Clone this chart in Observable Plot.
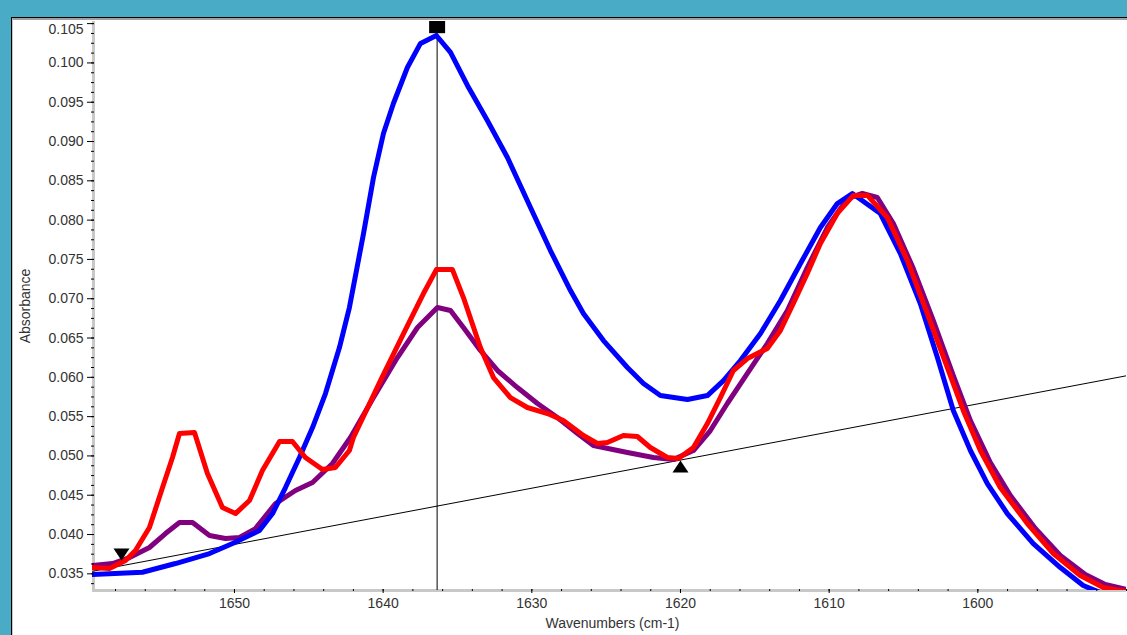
<!DOCTYPE html>
<html>
<head>
<meta charset="utf-8">
<script src="https://cdn.jsdelivr.net/npm/d3@7"></script>
<script src="https://cdn.jsdelivr.net/npm/@observablehq/plot@0.6"></script>
<style>
  html, body { margin: 0; padding: 0; width: 1127px; height: 635px; overflow: hidden; background: #4aabc6; }
  #panel { position: absolute; left: 11px; top: 17px; width: 1116px; height: 618px; background: #fff;
           border-top: 1px solid #000; border-left: 1px solid #000; box-sizing: border-box; }
  #panel .inner { position: absolute; left: 0; top: 0; right: 0; bottom: 0; border-top: 2px solid #a0a0a0; border-left: 1px solid #c8c8c8; }
  #chart { position: absolute; left: 0; top: 0; }
</style>
</head>
<body>
<div id="panel"><div class="inner"></div></div>
<div id="chart"></div>
<script>
// ---- data ----
const blueWn = [1659.55,1656.19,1653.97,1651.68,1650.13,1648.32,1647.44,1646.57,1645.63,1644.75,1643.88,1642.94,1642.27,1641.32,1640.65,1639.98,1639.31,1638.37,1637.49,1636.42,1635.47,1634.33,1632.99,1631.64,1630.09,1628.75,1627.40,1626.53,1625.18,1623.57,1622.49,1621.35,1619.53,1618.19,1617.11,1615.97,1614.62,1613.28,1611.93,1610.59,1609.45,1608.44,1606.56,1605.21,1603.87,1602.72,1601.65,1600.50,1599.36,1598.02,1596.27,1594.45,1592.91,1591.76,1590.0];
const blueAbs = [0.03491,0.03520,0.03631,0.03758,0.03886,0.04051,0.04267,0.04598,0.04980,0.05361,0.05794,0.06379,0.06888,0.07830,0.08542,0.09102,0.09484,0.09942,0.10248,0.10349,0.10133,0.09713,0.09268,0.08797,0.08161,0.07613,0.07104,0.06812,0.06468,0.06125,0.05921,0.05768,0.05718,0.05768,0.05959,0.06214,0.06557,0.06977,0.07448,0.07906,0.08212,0.08339,0.08084,0.07575,0.06939,0.06252,0.05578,0.05069,0.04649,0.04267,0.03885,0.03580,0.03351,0.03262,0.03240];

const redWn = [1659.55,1658.41,1657.33,1656.66,1655.72,1654.84,1654.17,1653.70,1652.69,1651.82,1650.81,1649.93,1648.99,1648.12,1646.97,1646.10,1645.23,1644.08,1643.21,1642.27,1642.00,1640.18,1638.63,1637.29,1636.42,1635.34,1634.60,1633.46,1632.58,1631.44,1630.30,1628.95,1627.88,1626.53,1625.59,1624.92,1623.84,1622.90,1622.03,1620.88,1620.14,1619.13,1618.19,1617.32,1616.44,1615.50,1614.16,1613.28,1612.41,1611.47,1610.59,1609.45,1608.37,1607.43,1606.09,1604.74,1603.40,1602.05,1600.98,1599.83,1598.49,1596.67,1594.92,1593.11,1591.56,1590.0];
const redAbs = [0.03580,0.03567,0.03669,0.03796,0.04089,0.04598,0.04980,0.05285,0.05298,0.04776,0.04344,0.04267,0.04433,0.04814,0.05183,0.05183,0.04980,0.04827,0.04853,0.05069,0.05234,0.05959,0.06557,0.07066,0.07371,0.07371,0.07015,0.06379,0.05997,0.05743,0.05616,0.05539,0.05450,0.05260,0.05158,0.05171,0.05260,0.05247,0.05107,0.04980,0.04967,0.05107,0.05412,0.05743,0.06087,0.06239,0.06367,0.06596,0.06939,0.07321,0.07703,0.08085,0.08314,0.08314,0.08034,0.07486,0.06812,0.06125,0.05578,0.05069,0.04598,0.04140,0.03758,0.03478,0.03326,0.03275];

const purpleWn = [1659.55,1658.20,1657.06,1655.72,1654.64,1653.70,1652.82,1651.68,1650.61,1649.66,1648.59,1647.24,1645.90,1644.75,1643.41,1642.20,1640.65,1639.04,1637.69,1636.35,1635.47,1634.60,1633.46,1632.31,1630.97,1629.62,1628.28,1626.93,1625.86,1623.57,1621.82,1620.48,1619.13,1617.99,1616.85,1615.50,1614.16,1612.81,1611.47,1610.12,1608.77,1607.77,1606.76,1605.68,1604.34,1603.00,1601.65,1600.50,1599.16,1597.81,1596.13,1594.45,1592.77,1591.43,1590.0];
const purpleAbs = [0.03606,0.03631,0.03707,0.03835,0.04013,0.04153,0.04153,0.03987,0.03949,0.03962,0.04076,0.04394,0.04560,0.04662,0.04904,0.05234,0.05743,0.06252,0.06634,0.06888,0.06850,0.06634,0.06342,0.06087,0.05870,0.05667,0.05489,0.05285,0.05132,0.05043,0.04980,0.04954,0.05069,0.05323,0.05667,0.06049,0.06430,0.06850,0.07397,0.07906,0.08275,0.08339,0.08288,0.07957,0.07384,0.06723,0.06023,0.05450,0.04916,0.04496,0.04076,0.03733,0.03491,0.03364,0.03300];

const baselineWn = [1659.55, 1590.0];
const baselineAbs = [0.03533, 0.06020];

const peakWn = [1636.37];
const peakMarkAbs = [0.1048];
const leftMarkWn = [1657.6], leftMarkAbs = [0.0367];
const rightMarkWn = [1620.0], rightMarkAbs = [0.04941];

const xDomain = [1659.55, 1590.0];
const yDomain = [0.03288, 0.10527];
const xMajorTicks = [1650, 1640, 1630, 1620, 1610, 1600];
const xMinorTicks = d3.range(1590, 1659, 2);
const yMajorTicks = [0.035,0.040,0.045,0.050,0.055,0.060,0.065,0.070,0.075,0.080,0.085,0.090,0.095,0.100];
const yTopTick = [0.105];
const yMinorTicks = d3.range(0, 58).map(i => +(0.03375 + i * 0.00125).toFixed(5));
const xTitle = ["Wavenumbers (cm-1)"];
const yTitle = ["Absorbance"];

// ---- custom symbols ----
const triDown = { draw(ctx) { ctx.moveTo(-8, -12); ctx.lineTo(8, -12); ctx.lineTo(0, 0); ctx.closePath(); } };
const triUp = { draw(ctx) { ctx.moveTo(0, 0); ctx.lineTo(8, 12); ctx.lineTo(-8, 12); ctx.closePath(); } };
const sq = { draw(ctx) { ctx.rect(-8, -8, 16, 16); } };

const curve = (wn, ab, color) => Plot.line(wn, {x: wn, y: ab, stroke: color, strokeWidth: 5, strokeLinejoin: "round", clip: true});
const FS = 14;

const chart = Plot.plot({
  width: 1127,
  height: 635,
  marginLeft: 92,
  marginRight: 1,
  marginTop: 21,
  marginBottom: 45,
  style: {background: "transparent", fontFamily: "'Liberation Sans', Arial, sans-serif", fontSize: "14px"},
  x: {domain: xDomain},
  y: {domain: yDomain},
  marks: [
    // axis lines
    Plot.ruleY([yDomain[0]], {stroke: "#c8c8c8", strokeWidth: 3}),
    Plot.ruleX([xDomain[0]], {stroke: "#c8c8c8", strokeWidth: 3, dx: 1}),
    // baseline and peak marker line
    Plot.line(baselineWn, {x: baselineWn, y: baselineAbs, stroke: "#000", strokeWidth: 1, clip: true}),
    Plot.ruleX(peakWn, {stroke: "#000", strokeWidth: 1}),
    // spectra
    curve(purpleWn, purpleAbs, "#800080"),
    curve(blueWn, blueAbs, "#0000ff"),
    curve(redWn, redAbs, "#ff0000"),
    // markers
    Plot.dot(peakWn, {x: peakWn, y: peakMarkAbs, symbol: sq, fill: "#000", stroke: "none", clip: true}),
    Plot.dot(leftMarkWn, {x: leftMarkWn, y: leftMarkAbs, symbol: triDown, fill: "#000", stroke: "none"}),
    Plot.dot(rightMarkWn, {x: rightMarkWn, y: rightMarkAbs, symbol: triUp, fill: "#000", stroke: "none"}),
    // y axis
    Plot.axisY({ticks: yMinorTicks, tickSize: 3, dx: 2, tickFormat: () => "", stroke: "#000", label: null}),
    Plot.axisY({ticks: yMajorTicks.concat(yTopTick), tickSize: 7, dx: 2, tickFormat: () => "", stroke: "#000", label: null}),
    Plot.axisY({ticks: yMajorTicks, tickSize: 0, tickPadding: 9, tickFormat: d3.format(".3f"), fill: "#333", fontSize: FS, label: null}),
    Plot.text(yTopTick, {y: d => d, frameAnchor: "left", dx: -9, dy: 6, text: d3.format(".3f"), textAnchor: "end", fill: "#333", fontSize: FS}),
    // x axis
    Plot.axisX({ticks: xMinorTicks, tickSize: 2, dy: -1, tickFormat: () => "", stroke: "#000", label: null}),
    Plot.axisX({ticks: xMajorTicks, tickSize: 4, dy: -1, tickFormat: () => "", stroke: "#000", label: null}),
    Plot.axisX({ticks: xMajorTicks, tickSize: 0, tickPadding: 8, tickFormat: d => String(d), fill: "#333", fontSize: FS, label: null}),
    // titles
    Plot.text(xTitle, {text: d => d, frameAnchor: "bottom", dy: 37, dx: 3, fill: "#333", fontSize: FS}),
    Plot.text(yTitle, {text: d => d, frameAnchor: "left", textAnchor: "middle", dx: -67, rotate: -90, fill: "#333", fontSize: FS})
  ]
});
document.getElementById("chart").appendChild(chart);
</script>
</body>
</html>
